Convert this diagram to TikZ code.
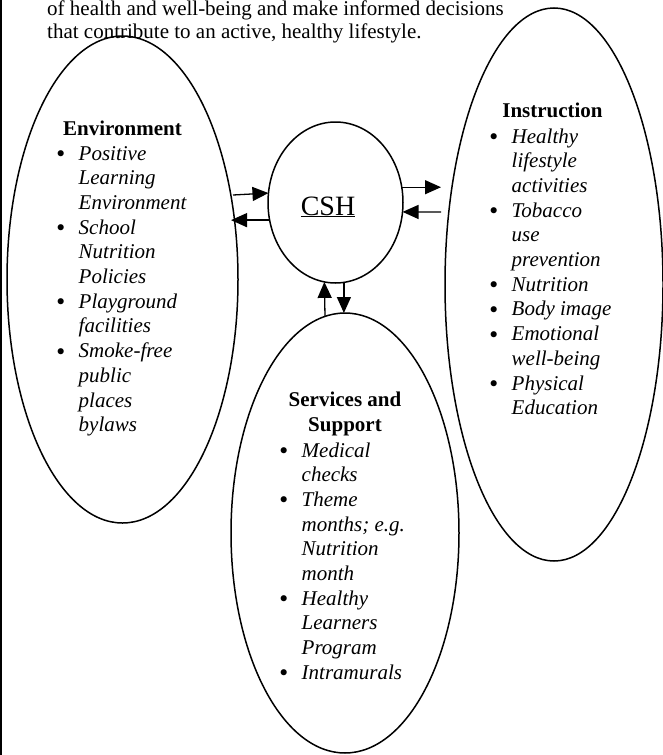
\documentclass[tikz,border=0pt]{standalone}
\usepackage{fontspec}
\setmainfont{Liberation Serif}
\newfontfamily\bulfont{DejaVu Sans}
\usetikzlibrary{shapes.geometric,arrows.meta}
\newcommand{\bulletmark}{\raisebox{-1.5pt}{\bulfont\hspace*{-1.5pt}•}}
\newcommand{\itm}[1]{\makebox[22.5pt][l]{\bulletmark}\textit{#1}}
\newcommand{\cnt}[1]{\hspace*{22.5pt}\textit{#1}}
\begin{document}
\begin{tikzpicture}[x=1pt,y=-1pt,
  oval/.style={draw, ellipse, line width=1.5pt, inner sep=0pt, outer sep=0pt},
  arr/.style={-{Triangle[length=16pt,width=14pt]}, line width=1.3pt},
  body/.style={inner sep=0pt, anchor=base west, font=\fontsize{21}{24.7}\selectfont},
  head/.style={inner sep=0pt, anchor=base, font=\fontsize{21}{25.5}\selectfont\bfseries}]
\useasboundingbox (0,0) rectangle (663,755);
% page edge
\draw[line width=1.6pt] (1,0) -- (1,755);
% intro text
\node[inner sep=0pt, anchor=base west, font=\fontsize{21}{23}\selectfont] (intro) at (47,15)
  {\begin{tabular}[t]{@{}l@{}}of health and well-being and make informed decisions\\
   that contribute to an active, healthy lifestyle.\end{tabular}};
% ovals
\node[oval, minimum width=231pt, minimum height=487pt] (env) at (122.5,279.5) {};
\node[oval, minimum width=218pt, minimum height=553pt] (ins) at (554,284.5) {};
\node[oval, minimum width=228pt, minimum height=440pt] (serv) at (345,533) {};
\node[oval, minimum width=135pt, minimum height=161pt] (csh) at (335.5,202.5) {};
\node[inner sep=0pt, anchor=base, font=\fontsize{28}{32}\selectfont] (cshlabel) at (328,215) {\underline{CSH}};
% environment
\node[head] (envhead) at (122.5,135) {Environment};
\node[body] (envlist) at (56,160) {\begin{tabular}[t]{@{}l@{}}
\itm{Positive}\\ \cnt{Learning}\\ \cnt{Environment}\\
\itm{School}\\ \cnt{Nutrition}\\ \cnt{Policies}\\
\itm{Playground}\\ \cnt{facilities}\\
\itm{Smoke-free}\\ \cnt{public}\\ \cnt{places}\\ \cnt{bylaws}
\end{tabular}};
% instruction
\node[head] (inshead) at (552.5,117) {Instruction};
\node[body] (inslist) at (489,143) {\begin{tabular}[t]{@{}l@{}}
\itm{Healthy}\\ \cnt{lifestyle}\\ \cnt{activities}\\
\itm{Tobacco}\\ \cnt{use}\\ \cnt{prevention}\\
\itm{Nutrition}\\
\itm{Body image}\\
\itm{Emotional}\\ \cnt{well-being}\\
\itm{Physical}\\ \cnt{Education}
\end{tabular}};
% services
\node[head] (servhead) at (345,406) {\begin{tabular}[t]{@{}c@{}}Services and\\ Support\end{tabular}};
\node[body] (servlist) at (279,457) {\begin{tabular}[t]{@{}l@{}}
\itm{Medical}\\ \cnt{checks}\\
\itm{Theme}\\ \cnt{months; e.g.}\\ \cnt{Nutrition}\\ \cnt{month}\\
\itm{Healthy}\\ \cnt{Learners}\\ \cnt{Program}\\
\itm{Intramurals}
\end{tabular}};
% arrow ends
\coordinate (envR1) at (233,195);
\coordinate (envR2) at (231,220);
\coordinate (insL1) at (441,187);
\coordinate (insL2) at (441,212);
\coordinate (servT) at (325,316);
% connectors
\draw[arr] (envR1) -- (csh.172);
\draw[arr] (csh.195) -- (csh.195 -| envR2);
\draw[arr] (csh.13) -- (csh.13 -| insL1);
\draw[arr] (insL2) -- (csh.352);
\draw[arr] (servT) -- (csh.262.5);
\draw[arr] (csh.276.8) -- (csh.276.8 |- serv.north);
\end{tikzpicture}
\end{document}
